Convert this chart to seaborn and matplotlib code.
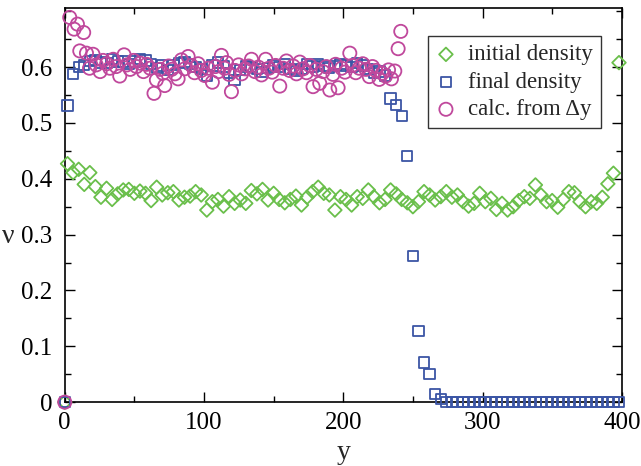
import numpy as np
import pandas as pd
import matplotlib
matplotlib.use("Agg")
import matplotlib.pyplot as plt
import seaborn as sns
from matplotlib.ticker import MultipleLocator

# ---------------- data ----------------
grid_y = [0] + list(range(2, 400, 4))  # cell positions

initial_density = [0.0,
    0.427, 0.411, 0.417, 0.390, 0.411, 0.386, 0.367, 0.383, 0.363, 0.373,
    0.380, 0.381, 0.374, 0.378, 0.374, 0.361, 0.385, 0.371, 0.375, 0.377,
    0.362, 0.367, 0.369, 0.377, 0.371, 0.344, 0.359, 0.363, 0.351, 0.368,
    0.356, 0.362, 0.356, 0.379, 0.373, 0.381, 0.362, 0.374, 0.363, 0.357,
    0.363, 0.369, 0.353, 0.367, 0.377, 0.385, 0.374, 0.371, 0.344, 0.368,
    0.363, 0.353, 0.368, 0.365, 0.380, 0.368, 0.357, 0.363, 0.380, 0.373,
    0.363, 0.357, 0.350, 0.359, 0.377, 0.371, 0.362, 0.368, 0.377, 0.367,
    0.371, 0.359, 0.351, 0.356, 0.374, 0.359, 0.365, 0.345, 0.356, 0.344,
    0.350, 0.361, 0.368, 0.365, 0.389, 0.371, 0.359, 0.361, 0.349, 0.363,
    0.377, 0.375, 0.359, 0.350, 0.359, 0.356, 0.367, 0.391, 0.410, 0.608]

final_density = [0.0,
    0.531, 0.588, 0.600, 0.604, 0.611, 0.613, 0.608, 0.607, 0.615, 0.610,
    0.610, 0.605, 0.610, 0.614, 0.612, 0.606, 0.598, 0.603, 0.595, 0.604,
    0.607, 0.609, 0.606, 0.600, 0.597, 0.585, 0.603, 0.608, 0.601, 0.590,
    0.577, 0.595, 0.601, 0.600, 0.596, 0.591, 0.598, 0.603, 0.600, 0.606,
    0.597, 0.593, 0.596, 0.605, 0.601, 0.606, 0.602, 0.598, 0.602, 0.605,
    0.603, 0.600, 0.607, 0.603, 0.596, 0.590, 0.592, 0.585, 0.544, 0.532,
    0.513, 0.441, 0.262, 0.127, 0.071, 0.050, 0.014, 0.006, 0.0, 0.0,
    0.0, 0.0, 0.0, 0.0, 0.0, 0.0, 0.0, 0.0, 0.0, 0.0,
    0.0, 0.0, 0.0, 0.0, 0.0, 0.0, 0.0, 0.0, 0.0, 0.0,
    0.0, 0.0, 0.0, 0.0, 0.0, 0.0, 0.0, 0.0, 0.0, 0.0]

calc_y = [0.0, 3.6, 6.7, 9.1, 10.8, 13.6, 15.6, 17.8, 20.3, 22.6,
          25.4, 27.5, 30.1, 32.4, 34.8, 37.0, 39.5, 42.6, 44.6, 47.0,
          49.5, 51.6, 54.3, 56.5, 58.8, 61.3, 64.1, 65.8, 68.4, 70.5,
          71.8, 74.6, 76.8, 79.2, 81.4, 83.8, 86.2, 88.6, 91.0, 93.2,
          95.8, 98.0, 100.5, 103.0, 106.0, 108.2, 110.4, 112.5, 114.8, 116.1,
          118.0, 119.7, 122.4, 124.8, 127.0, 129.5, 132.0, 134.1, 136.6, 139.0,
          141.3, 144.3, 146.6, 149.0, 151.4, 154.4, 156.8, 159.2, 161.5, 164.0,
          166.4, 168.8, 171.2, 173.6, 176.0, 178.3, 180.6, 183.1, 185.4, 187.8,
          190.3, 192.6, 194.5, 196.3, 198.8, 201.2, 204.7, 206.5, 209.0, 211.5,
          214.0, 216.3, 218.7, 221.0, 223.4, 225.8, 228.0, 230.4, 232.5, 234.6,
          237.0, 239.4, 241.3]
calc_density = [0.0, 0.689, 0.668, 0.677, 0.629, 0.662, 0.625, 0.598, 0.623, 0.604,
                0.592, 0.612, 0.606, 0.598, 0.614, 0.601, 0.584, 0.622, 0.604, 0.596,
                0.612, 0.601, 0.607, 0.592, 0.605, 0.598, 0.553, 0.577, 0.596, 0.589,
                0.567, 0.602, 0.596, 0.588, 0.579, 0.613, 0.597, 0.619, 0.603, 0.590,
                0.606, 0.594, 0.585, 0.598, 0.573, 0.601, 0.592, 0.621, 0.598, 0.608,
                0.587, 0.556, 0.594, 0.604, 0.588, 0.597, 0.602, 0.614, 0.592, 0.600,
                0.586, 0.614, 0.598, 0.591, 0.603, 0.566, 0.598, 0.611, 0.594, 0.602,
                0.588, 0.609, 0.597, 0.590, 0.603, 0.565, 0.596, 0.571, 0.592, 0.601,
                0.559, 0.587, 0.605, 0.563, 0.598, 0.591, 0.625, 0.603, 0.590, 0.598,
                0.606, 0.596, 0.583, 0.601, 0.594, 0.578, 0.589, 0.584, 0.595, 0.579,
                0.593, 0.633, 0.664]

labels = ["initial density", "final density", "calc. from \u0394y"]
colors = ["#6abf4b", "#3b55a5", "#c0489c"]

# ---------------- plot ----------------
sns.set_theme(style="ticks")
plt.rcParams["font.family"] = ["Liberation Serif", "DejaVu Serif"]

fig = plt.figure(figsize=(6.41, 4.66), dpi=100)
ax = fig.add_axes([0.101, 0.137, 0.869, 0.846])

sns.scatterplot(x=grid_y, y=initial_density, ax=ax, marker="D", s=48,
                facecolor="none", edgecolor=colors[0], linewidth=1.3,
                label=labels[0], clip_on=False, zorder=3)
sns.scatterplot(x=grid_y, y=final_density, ax=ax, marker="s", s=55,
                facecolor="none", edgecolor=colors[1], linewidth=1.3,
                label=labels[1], clip_on=False, zorder=3)
sns.scatterplot(x=calc_y, y=calc_density, ax=ax, marker="o", s=90,
                facecolor="none", edgecolor=colors[2], linewidth=1.3,
                label=labels[2], clip_on=False, zorder=3)

ax.set_xlim(0, 400)
ax.set_ylim(0, 0.706)
ax.xaxis.set_major_locator(MultipleLocator(100))
ax.xaxis.set_minor_locator(MultipleLocator(50))
ax.set_yticks([0, 0.1, 0.2, 0.3, 0.4, 0.5, 0.6])
ax.set_yticklabels(["0", "0.1", "0.2", "0.3", "0.4", "0.5", "0.6"])
ax.yaxis.set_minor_locator(MultipleLocator(0.05))
ax.tick_params(which="both", direction="in", top=True, right=True,
               labelsize=18, colors="black", width=1.0)
ax.tick_params(axis="x", which="major", pad=7)
ax.tick_params(axis="y", which="major", pad=9)
ax.tick_params(which="major", length=7)
ax.tick_params(which="minor", length=4)
for sp in ax.spines.values():
    sp.set_color("black")
    sp.set_linewidth(1.2)

ax.set_xlabel("y", fontsize=20)
ax.xaxis.set_label_coords(0.5, -0.095)
ax.set_ylabel("\u03bd", fontsize=20, rotation=0, ha="center", va="center")
ax.yaxis.set_label_coords(-0.102, 0.42)

leg = ax.legend(loc="upper right", bbox_to_anchor=(0.962, 0.928), fontsize=16.5,
                frameon=True, fancybox=False, edgecolor="black",
                handletextpad=0.5, borderpad=0.35, labelspacing=0.28,
                handlelength=0.9, borderaxespad=0)
leg.get_frame().set_linewidth(1.0)
leg.set_zorder(5)

fig.savefig("out.png", dpi=100)
